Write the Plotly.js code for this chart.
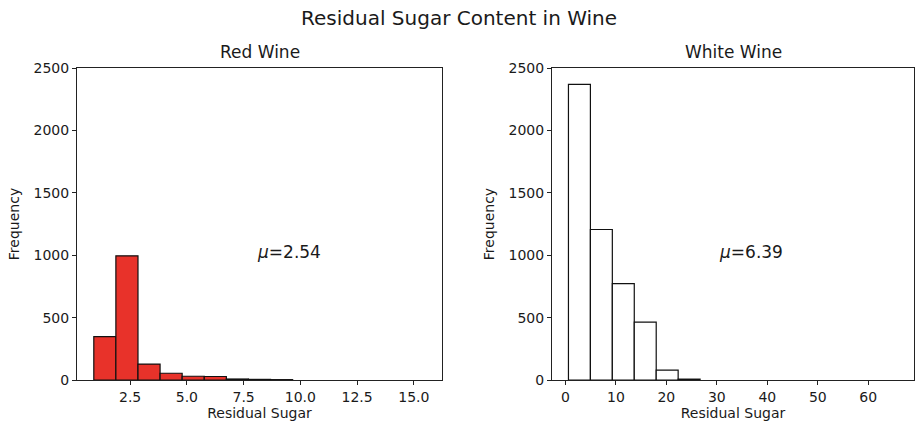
<!DOCTYPE html>
<html>
<head>
<meta charset="utf-8">
<script src="https://cdn.plot.ly/plotly-3.0.1.min.js"></script>
<style>html,body{margin:0;padding:0;background:#fff;}#chart{width:917px;height:430px;}</style>
</head>
<body>
<div id="chart"></div>
<script>
// Bin edges (15 bins each) and counts
const redEdges = [0.9, 1.873, 2.847, 3.82, 4.793, 5.767, 6.74, 7.713, 8.687, 9.66, 10.633, 11.607, 12.58, 13.553, 14.527, 15.5];
const redCounts = [347, 995, 128, 54, 30, 28, 8, 5, 3, 0, 0, 0, 0, 0, 0];
const whiteEdges = [0.6, 4.947, 9.293, 13.64, 17.987, 22.333, 26.68, 31.027, 35.373, 39.72, 44.067, 48.413, 52.76, 57.107, 61.453, 65.8];
const whiteCounts = [2369, 1206, 773, 463, 79, 7, 0, 0, 0, 0, 0, 0, 0, 0, 0];
const titles = ["Red Wine", "White Wine"];
const means = ["2.54", "6.39"];
const yTicks = [0, 500, 1000, 1500, 2000, 2500];
const redXTicks = [2.5, 5.0, 7.5, 10.0, 12.5, 15.0];
const whiteXTicks = [0, 10, 20, 30, 40, 50, 60];

// Build bar geometry from edges; empty bins are not drawn
function bars(edges, counts){
  const x=[], y=[], w=[];
  for(let i=0;i<counts.length;i++){
    if(counts[i]>0){ x.push((edges[i]+edges[i+1])/2); y.push(counts[i]); w.push(edges[i+1]-edges[i]); }
  }
  return {x:x, y:y, w:w};
}

const FONT = "DejaVu Sans, sans-serif";
const TXT = "#1a1a1a";
const rb = bars(redEdges, redCounts), wb = bars(whiteEdges, whiteCounts);

const traces = [
  {type:"bar", x:rb.x, y:rb.y, width:rb.w,
   marker:{color:"#e8322a", line:{color:"#111", width:1.2}}, xaxis:"x", yaxis:"y", hoverinfo:"x+y"},
  {type:"bar", x:wb.x, y:wb.y, width:wb.w,
   marker:{color:"#ffffff", line:{color:"#111", width:1.2}}, xaxis:"x2", yaxis:"y2", hoverinfo:"x+y"}
];

const W = 917, H = 430;
const yDom = [(H-380)/H, (H-68)/H];
function xa(dom, range, ticks, fmt){
  return {domain:dom, range:range, tickvals:ticks, ticktext:ticks.map(fmt),
    showline:true, mirror:true, linecolor:"#222", linewidth:1, ticks:"outside", ticklen:4, tickcolor:"#222",
    showgrid:false, zeroline:false, tickfont:{family:FONT,size:14,color:TXT},
    title:{text:"Residual Sugar", font:{family:FONT,size:14,color:TXT}, standoff:2}};
}
function ya(anchor){
  return {domain:yDom, range:[0,2500], tickvals:yTicks, anchor:anchor,
    showline:true, mirror:true, linecolor:"#222", linewidth:1, ticks:"outside", ticklen:4, tickcolor:"#222",
    showgrid:false, zeroline:false, tickfont:{family:FONT,size:14,color:TXT},
    title:{text:"Frequency", font:{family:FONT,size:14,color:TXT}, standoff:10}};
}

const layout = {
  width:W, height:H, margin:{l:0,r:0,t:0,b:0}, paper_bgcolor:"#fff", plot_bgcolor:"#fff",
  showlegend:false, bargap:0,
  font:{family:FONT, color:TXT},
  xaxis: Object.assign(xa([77/W, 442/W], [0.16, 16.24], redXTicks, v=>v.toFixed(1)), {anchor:"y"}),
  yaxis: ya("x"),
  xaxis2: Object.assign(xa([552/W, 914/W], [-2.66, 69.06], whiteXTicks, v=>String(v)), {anchor:"y2"}),
  yaxis2: ya("x2"),
  annotations:[
    {text:"Residual Sugar Content in Wine", xref:"paper", yref:"paper", x:0.5, y:(H-18)/H, xanchor:"center", yanchor:"middle", showarrow:false, font:{family:FONT,size:20,color:TXT}},
    {text:titles[0], xref:"paper", yref:"paper", x:(77+442)/2/W, y:(H-52)/H, xanchor:"center", yanchor:"middle", showarrow:false, font:{family:FONT,size:17,color:TXT}},
    {text:titles[1], xref:"paper", yref:"paper", x:(552+914)/2/W, y:(H-52)/H, xanchor:"center", yanchor:"middle", showarrow:false, font:{family:FONT,size:17,color:TXT}},
    {text:"<i>μ</i>="+means[0], xref:"x", yref:"y", x:8, y:1025, xanchor:"left", yanchor:"middle", showarrow:false, font:{family:FONT,size:17,color:TXT}},
    {text:"<i>μ</i>="+means[1], xref:"x2", yref:"y2", x:30, y:1025, xanchor:"left", yanchor:"middle", showarrow:false, font:{family:FONT,size:17,color:TXT}}
  ]
};

Plotly.newPlot("chart", traces, layout, {displayModeBar:false, staticPlot:true});
</script>
</body>
</html>
